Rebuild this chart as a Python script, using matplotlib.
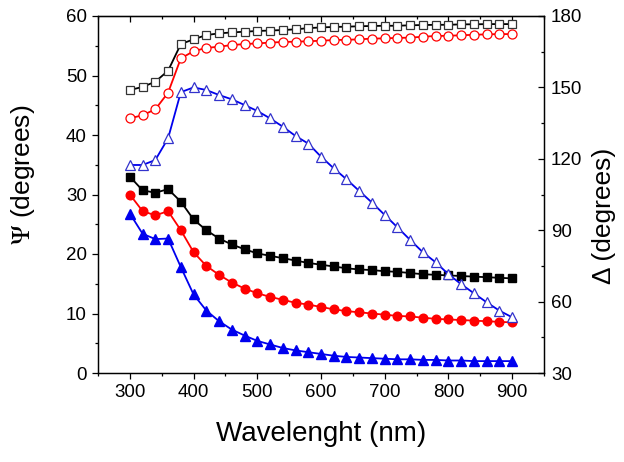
import matplotlib
matplotlib.use("Agg")
import matplotlib.pyplot as plt
from matplotlib.ticker import MultipleLocator

plt.rcParams['font.family'] = ['Liberation Sans', 'DejaVu Sans']
plt.rcParams['mathtext.fontset'] = 'stix'

wavelength = list(range(300, 901, 20))

psi_black = [33.0, 30.7, 30.3, 30.9, 28.8, 25.8, 24.0, 22.6, 21.6, 20.8, 20.1, 19.7, 19.3, 18.9,
             18.5, 18.2, 17.9, 17.6, 17.4, 17.3, 17.1, 17.0, 16.8, 16.6, 16.5, 16.4, 16.3, 16.2,
             16.1, 16.0, 15.9]
psi_red = [30.0, 27.2, 26.5, 27.2, 24.0, 20.3, 18.0, 16.5, 15.2, 14.2, 13.4, 12.8, 12.3, 11.8,
           11.5, 11.1, 10.7, 10.4, 10.2, 10.0, 9.8, 9.6, 9.5, 9.3, 9.1, 9.0, 8.9, 8.8, 8.7, 8.6, 8.5]
psi_blue = [26.8, 23.4, 22.5, 22.6, 17.8, 13.2, 10.5, 8.7, 7.3, 6.3, 5.4, 4.8, 4.2, 3.8, 3.5,
            3.2, 2.9, 2.7, 2.6, 2.5, 2.4, 2.3, 2.3, 2.2, 2.2, 2.1, 2.1, 2.0, 2.0, 2.0, 2.0]

delta_black = [148.9, 150.2, 152.4, 157.0, 168.2, 170.2, 172.0, 172.7, 173.1, 173.4, 173.7, 173.9,
               174.1, 174.4, 174.9, 175.2, 175.4, 175.5, 175.7, 175.8, 175.9, 175.9, 176.1, 176.2,
               176.3, 176.3, 176.5, 176.5, 176.6, 176.6, 176.6]
delta_red = [137.0, 138.3, 140.8, 147.8, 162.2, 165.2, 166.6, 167.1, 167.8, 168.2, 168.5, 168.8,
             169.1, 169.2, 169.4, 169.6, 169.9, 170.0, 170.2, 170.5, 170.6, 170.8, 170.9, 171.3,
             171.6, 171.7, 171.9, 172.1, 172.3, 172.4, 172.4]
delta_blue = [117.4, 117.4, 119.5, 128.6, 148.0, 150.0, 148.9, 146.8, 145.0, 142.6, 140.1, 137.0,
              133.5, 129.6, 126.4, 120.9, 116.0, 111.4, 106.5, 101.6, 96.4, 91.2, 85.9, 80.7,
              76.5, 71.5, 67.3, 63.5, 59.7, 56.2, 53.4]

BLACK = '#000000'
RED = '#ff0000'
BLUE = '#0000ee'

fig = plt.figure(figsize=(6.24, 4.62), dpi=100)
ax = fig.add_axes([98/624, 1-373/462, 446/624, 357/462])
ax2 = ax.twinx()

lw = 1.3
ax.plot(wavelength, psi_black, '-s', color=BLACK, ms=5.5, lw=lw, zorder=3)
ax.plot(wavelength, psi_red, '-o', color=RED, ms=6.2, lw=lw, zorder=3)
ax.plot(wavelength, psi_blue, '-^', color=BLUE, ms=6.5, lw=lw, zorder=3)

ax2.plot(wavelength, delta_black, '-s', color=BLACK, ms=6, lw=lw, mfc='white', mec='#333333', mew=0.9)
ax2.plot(wavelength, delta_red, '-o', color=RED, ms=6.5, lw=lw, mfc='white', mec=RED, mew=0.9)
ax2.plot(wavelength, delta_blue, '-^', color=BLUE, ms=7, lw=lw, mfc='white', mec='#3333cc', mew=0.9)

ax.set_xlim(250, 950)
ax.set_ylim(0, 60)
ax2.set_ylim(30, 180)

ax.xaxis.set_major_locator(MultipleLocator(100))
ax.xaxis.set_minor_locator(MultipleLocator(50))
ax.yaxis.set_major_locator(MultipleLocator(10))
ax.yaxis.set_minor_locator(MultipleLocator(5))
ax2.yaxis.set_major_locator(MultipleLocator(30))
ax2.yaxis.set_minor_locator(MultipleLocator(15))

ax.tick_params(axis='both', which='major', direction='out', length=4.5, width=0.9, labelsize=13.5, top=False, right=False)
ax.tick_params(axis='both', which='minor', direction='out', length=2.5, width=0.9, top=False, right=False)
ax2.tick_params(axis='y', which='major', direction='in', length=4.5, width=0.9, labelsize=13.5, pad=5)
ax2.tick_params(axis='y', which='minor', direction='in', length=2.5, width=0.9)

top = ax.secondary_xaxis('top')
top.xaxis.set_major_locator(MultipleLocator(100))
top.xaxis.set_minor_locator(MultipleLocator(50))
top.tick_params(axis='x', which='major', direction='in', length=4.5, width=0.9, labeltop=False)
top.tick_params(axis='x', which='minor', direction='in', length=2.5, width=0.9)

for a in (ax, ax2):
    for s in a.spines.values():
        s.set_linewidth(0.9)

ax.set_xlabel('Wavelenght (nm)', fontsize=20, labelpad=14)
ax.set_ylabel(r'$\Psi$ (degrees)', fontsize=19)
ax.yaxis.set_label_coords(-0.137, 0.555)
ax2.set_ylabel('\u0394 (degrees)', fontsize=19)
ax2.yaxis.set_label_coords(1.108, 0.44)

fig.savefig('out.png', dpi=100)
